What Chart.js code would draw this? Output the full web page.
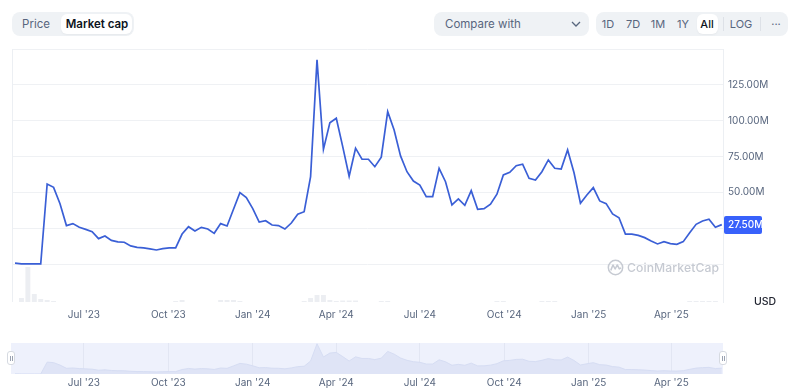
<!DOCTYPE html>
<html><head><meta charset="utf-8">
<script src="https://cdn.jsdelivr.net/npm/chart.js@4.4.1/dist/chart.umd.min.js"></script>
<style>
html,body{margin:0;padding:0;background:#fff;}
body{width:800px;height:391px;overflow:hidden;position:relative;font-family:Inter,"Noto Sans",sans-serif;}
canvas{position:absolute;left:0;}
#main{top:0;}
#nav{top:330px;}
.box{position:absolute;top:12px;height:24px;background:#eff2f5;border-radius:8px;}
.t{position:absolute;top:12px;height:24px;line-height:24px;font-size:11px;color:#58667e;transform:translateX(-50%);white-space:nowrap;}
.pill{position:absolute;top:14px;height:20px;background:#fff;border-radius:6px;box-shadow:0 1px 2px rgba(0,0,0,0.04);}
.sep{position:absolute;top:17px;width:1px;height:14px;background:#dde1e7;}
.handle{position:absolute;top:351px;width:8px;height:14px;background:#fff;border:1px solid #d6dae1;border-radius:3px;box-sizing:border-box;}
.handle i{position:absolute;top:4px;width:1px;height:5px;background:#9aa2b1;}
#usd{position:absolute;left:765px;top:295px;transform:translateX(-50%);font-size:10.5px;font-weight:500;color:#222531;}
#wm{position:absolute;left:607px;top:257px;height:20px;display:flex;align-items:center;color:#c6cad2;font-size:12.2px;font-weight:500;letter-spacing:0.1px;}
</style>
</head><body>
<div class="box" style="left:12px;width:122px;"></div>
<div class="t" style="left:36px;font-size:11.5px;">Price</div>
<div class="pill" style="left:61px;width:71px;"></div>
<div class="t" style="left:97px;font-size:11.5px;font-weight:600;color:#0d1421;">Market cap</div>

<div class="box" style="left:434px;width:155px;"></div>
<div class="t" style="left:445px;transform:none;font-size:11.5px;">Compare with</div>
<svg style="position:absolute;left:571px;top:19px;" width="10" height="10" viewBox="0 0 10 10"><path d="M1 3 L5 7 L9 3" fill="none" stroke="#58667e" stroke-width="1.3"/></svg>

<div class="box" style="left:596px;width:192px;"></div>
<div class="t" style="left:608px;">1D</div>
<div class="t" style="left:633px;">7D</div>
<div class="t" style="left:658px;">1M</div>
<div class="t" style="left:683px;">1Y</div>
<div class="pill" style="left:697px;width:21px;"></div>
<div class="t" style="left:707px;color:#0d1421;font-weight:500;">All</div>
<div class="sep" style="left:723px;"></div>
<div class="t" style="left:741px;">LOG</div>
<div class="sep" style="left:760px;"></div>
<div class="t" style="left:776px;">···</div>

<canvas id="main" width="800" height="340"></canvas>
<canvas id="nav" width="800" height="61"></canvas>

<div id="wm"><svg width="17" height="17" viewBox="0 0 18 18" style="margin-right:3px"><circle cx="9" cy="9" r="7.6" fill="none" stroke="#c6cad2" stroke-width="1.6"/><path d="M4.2 11.5 L6.3 6.3 L8.6 10.6 L10.9 6.3 L13 10.5 L14.4 9.6" fill="none" stroke="#c6cad2" stroke-width="1.6" stroke-linejoin="round" stroke-linecap="round"/></svg>CoinMarketCap</div>
<div id="usd">USD</div>
<div class="handle" style="left:7px;"><i style="left:2px"></i><i style="left:4px"></i></div>
<div class="handle" style="left:719px;"><i style="left:2px"></i><i style="left:4px"></i></div>

<script>
// Weekly dates (x categories)
const dates = [
"2023-04-17","2023-04-24","2023-05-01","2023-05-08","2023-05-15","2023-05-22","2023-05-29","2023-06-05","2023-06-12","2023-06-19","2023-06-26",
"2023-07-03","2023-07-10","2023-07-17","2023-07-24","2023-07-31","2023-08-07","2023-08-14","2023-08-21","2023-08-28",
"2023-09-04","2023-09-11","2023-09-18","2023-09-25","2023-10-02","2023-10-09","2023-10-16","2023-10-23","2023-10-30",
"2023-11-06","2023-11-13","2023-11-20","2023-11-27","2023-12-04","2023-12-11","2023-12-18","2023-12-25",
"2024-01-01","2024-01-08","2024-01-15","2024-01-22","2024-01-29","2024-02-05","2024-02-12","2024-02-19","2024-02-26",
"2024-03-04","2024-03-11","2024-03-18","2024-03-25","2024-04-01","2024-04-08","2024-04-15","2024-04-22","2024-04-29",
"2024-05-06","2024-05-13","2024-05-20","2024-05-27","2024-06-03","2024-06-10","2024-06-17","2024-06-24",
"2024-07-01","2024-07-08","2024-07-15","2024-07-22","2024-07-29","2024-08-05","2024-08-12","2024-08-19","2024-08-26",
"2024-09-02","2024-09-09","2024-09-16","2024-09-23","2024-09-30","2024-10-07","2024-10-14","2024-10-21","2024-10-28",
"2024-11-04","2024-11-11","2024-11-18","2024-11-25","2024-12-02","2024-12-09","2024-12-16","2024-12-23","2024-12-30",
"2025-01-06","2025-01-13","2025-01-20","2025-01-27","2025-02-03","2025-02-10","2025-02-17","2025-02-24",
"2025-03-03","2025-03-10","2025-03-17","2025-03-24","2025-03-31","2025-04-07","2025-04-14","2025-04-21","2025-04-28",
"2025-05-05","2025-05-12","2025-05-19","2025-05-26"
];
// Market cap, millions USD
const marketCapM = [
0.6,0.1,0.1,0.1,0.1,55.8,53.5,42,26.8,28.2,25.6,
24.2,22.6,17.7,19.5,16.5,15.4,15.2,12.6,11.6,
11.2,10.5,9.8,10.7,11.2,11.2,20.9,26,23,
25.6,24.4,21.4,28.2,26.5,38.2,49.8,46.3,
38.6,29.3,30.2,27.2,26.8,24.4,28.6,34.7,36.5,
61,142.4,80,98.6,101.7,81.9,61.2,80.8,73.1,
73.1,67.9,74.5,106.3,93.5,75.4,64.4,57.9,
55.1,47,47,66.8,57.4,41.2,45.4,41,51.2,
38.2,38.6,41.7,48.7,62.1,64,68.6,69.6,59.8,
58.6,64.4,72.6,66.8,66.3,79.6,63.7,42.4,48.2,
53.3,44,42.1,34.9,32.3,20.9,20.9,20,
18.4,16.1,14,15.6,14.2,13.7,15.6,21.8,27.7,
30,31.2,25.6,27.5
];
// Relative trading volume (background bars)
const volumeRel = [
0,4,35,8,3,2,1,0,0,0,0,
0,0,0,0,0,0,0,0,0,
0,0,0,0,0,1,2,0,0,
0,0,0,2,2,2,1,0,
0,0,0,0,0,0,0,0,1,
4,7,7,2,1,1.5,1.5,1.5,0,
0,0,1,1,0,0,0,0,
0,0,0,0,0,0,0,0,0,
0,0,0,1,1,0,0,0,0,
0,1,1,1,0,0,0,0,0,
0,0,0,0,0,0,0,0,
0,0,0,0,0,0,0,1,1,
1,1,1,0
];
const quarterTicks = ["2023-07-01","2023-10-01","2024-01-01","2024-04-01","2024-07-01","2024-10-01","2025-01-01","2025-04-01"];
const quarterLabels = ["Jul '23","Oct '23","Jan '24","Apr '24","Jul '24","Oct '24","Jan '25","Apr '25"];
const yGridValues = [0,25,50,75,100,125,150];
const yLabelValues = [50,75,100,125];

const toDay = s => Date.UTC(+s.slice(0,4), +s.slice(5,7)-1, +s.slice(8,10))/86400000;
const xs = dates.map(toDay);
const qDays = quarterTicks.map(toDay);
const capData = xs.map((x,i)=>({x, y: marketCapM[i]}));
const volData = xs.map((x,i)=>({x, y: volumeRel[i]}));
const xMin = xs[0]-3.3, xMax = xs[xs.length-1]+1.3;
const FONT = "Inter, 'Noto Sans', sans-serif";
const labelFor = v => { const i = qDays.indexOf(v); return i>=0 ? quarterLabels[i] : ''; };

const framePlugin = {
  id:'frame',
  beforeDatasetsDraw(chart){
    const {ctx, chartArea:a} = chart;
    ctx.save(); ctx.strokeStyle='#eceff3'; ctx.lineWidth=1;
    ctx.beginPath(); ctx.moveTo(a.left+0.5,a.top); ctx.lineTo(a.left+0.5,a.bottom); ctx.stroke();
    ctx.restore();
  },
  afterDraw(chart){
    const {ctx, chartArea:a} = chart;
    const last = marketCapM[marketCapM.length-1];
    const y = chart.scales.y.getPixelForValue(last);
    ctx.save();
    ctx.fillStyle='#3861fb';
    const x0=a.right+1, w=38, h=18;
    ctx.beginPath(); ctx.roundRect(x0, Math.round(y-h/2), w, h, 2); ctx.fill();
    ctx.fillStyle='#fff'; ctx.font="500 10px "+FONT; ctx.textBaseline='middle'; ctx.textAlign='left';
    ctx.fillText(last.toFixed(2)+'M', x0+4, y+0.5);
    ctx.restore();
  }
};

new Chart(document.getElementById('main'), {
  data:{datasets:[
    {type:'line', data:capData, borderColor:'#3a5fd6', borderWidth:1.7, pointRadius:0, tension:0, order:1, yAxisID:'y'},
    {type:'bar', data:volData, backgroundColor:'#eceef2', order:2, yAxisID:'yv', categoryPercentage:0.9, barPercentage:0.85}
  ]},
  options:{
    responsive:false, animation:false, devicePixelRatio:1,
    layout:{padding:{left:12, top:49, right:0, bottom:0}},
    plugins:{legend:{display:false}, tooltip:{enabled:false}},
    scales:{
      x:{type:'linear', min:xMin, max:xMax, offset:false,
        afterBuildTicks:s=>{s.ticks = qDays.map(v=>({value:v}));},
        afterFit:s=>{s.height = 38;},
        grid:{display:false, drawTicks:false, offset:false}, border:{display:false},
        ticks:{autoSkip:false, maxRotation:0, padding:7, color:'#58667e', font:{family:FONT,size:10}, callback:v=>labelFor(v)}},
      y:{type:'linear', position:'right', min:-26.5, max:150,
        afterBuildTicks:s=>{s.ticks = yGridValues.map(v=>({value:v}));},
        afterFit:s=>{s.width = 77;},
        grid:{color:'#eff1f4', drawTicks:false}, border:{display:true, color:'#eceff3'},
        ticks:{padding:5, color:'#58667e', font:{family:FONT,size:10}, callback:v=> yLabelValues.includes(v) ? v.toFixed(2)+'M' : ''}},
      yv:{type:'linear', display:false, min:0, max:253}
    }
  },
  plugins:[framePlugin]
});

const bandPlugin = {
  id:'band',
  beforeDraw(chart){
    const {ctx, chartArea:a} = chart;
    ctx.save(); ctx.fillStyle='#eef1fc'; ctx.fillRect(a.left-1, a.top, a.right-a.left+1, a.bottom-a.top); ctx.restore();
  }
};
new Chart(document.getElementById('nav'), {
  type:'line',
  data:{datasets:[{data:capData, borderColor:'#d6ddf3', borderWidth:1, backgroundColor:'#dfe4f6', fill:'origin', pointRadius:0, tension:0}]},
  options:{
    responsive:false, animation:false, devicePixelRatio:1,
    layout:{padding:{left:12, top:13, right:77, bottom:0}},
    plugins:{legend:{display:false}, tooltip:{enabled:false}},
    scales:{
      x:{type:'linear', min:xMin, max:xMax,
        afterBuildTicks:s=>{s.ticks = qDays.map(v=>({value:v}));},
        afterFit:s=>{s.height = 17;},
        grid:{display:true, drawTicks:false, color:'#e2e6f3'}, border:{display:false},
        ticks:{autoSkip:false, maxRotation:0, padding:3, color:'#58667e', font:{family:FONT,size:10}, callback:v=>labelFor(v)}},
      y:{type:'linear', display:false, min:0, max:146}
    }
  },
  plugins:[bandPlugin]
});
</script>
</body></html>
